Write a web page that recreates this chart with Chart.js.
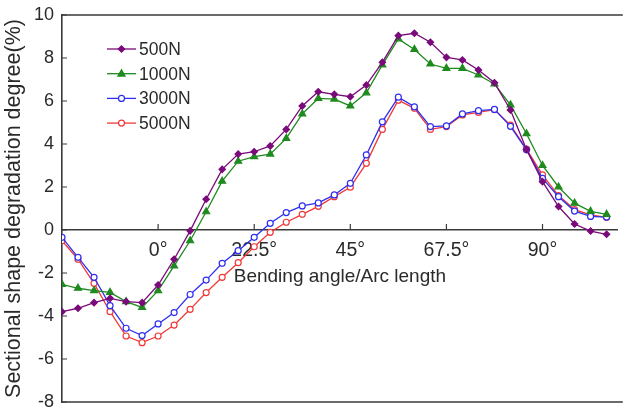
<!DOCTYPE html>
<html>
<head>
<meta charset="utf-8">
<script src="https://cdn.jsdelivr.net/npm/chart.js@4/dist/chart.umd.min.js"></script>
<style>
html,body{margin:0;padding:0;background:#fff;}
canvas{display:block;}
</style>
</head>
<body>
<canvas id="c" width="623" height="408"></canvas>
<script>
// x positions are measurement point indices (equal spacing along the bend)
const pointIndex = [0,1,2,3,4,5,6,7,8,9,10,11,12,13,14,15,16,17,18,19,20,21,22,23,24,25,26,27,28,29,30,31,32,33,34];
const xTickPositions = [6,12,18,24,30];
const xTickLabels = ['0°','22.5°','45°','67.5°','90°'];
const seriesNames = ['500N','1000N','3000N','5000N'];
const s500 = [-3.80,-3.64,-3.38,-3.18,-3.33,-3.38,-2.56,-1.36,-0.04,1.43,2.82,3.53,3.64,3.91,4.68,5.77,6.43,6.31,6.20,6.74,7.80,9.04,9.15,8.73,8.03,7.91,7.44,6.85,5.58,3.75,2.25,1.09,0.28,-0.05,-0.20];
const s1000 = [-2.53,-2.71,-2.82,-2.90,-3.33,-3.60,-2.82,-1.67,-0.50,0.85,2.27,3.20,3.41,3.53,4.26,5.40,6.12,6.09,5.77,6.38,7.68,8.89,8.40,7.72,7.52,7.52,7.21,6.79,5.82,4.48,3.00,2.00,1.25,0.87,0.73];
const s3000 = [-0.34,-1.27,-2.20,-3.52,-4.57,-4.91,-4.37,-3.84,-3.00,-2.33,-1.55,-0.96,-0.34,0.31,0.81,1.12,1.26,1.63,2.17,3.49,5.03,6.18,5.73,4.81,4.84,5.40,5.55,5.61,4.82,3.73,2.40,1.55,0.88,0.63,0.60];
const s5000 = [-0.50,-1.36,-2.48,-3.80,-4.93,-5.24,-4.93,-4.42,-3.69,-2.91,-2.20,-1.52,-0.78,-0.11,0.36,0.73,1.10,1.55,1.99,3.10,4.68,6.04,5.66,4.68,4.81,5.35,5.47,5.60,4.88,3.76,2.56,1.60,0.95,0.70,0.59];
const yTicks = [-8,-6,-4,-2,0,2,4,6,8,10];

const FONT = 'Liberation Sans, Arial, sans-serif';
const TXT = '#2a2a2a';
const AX = '#3a3a3a';

function pts(vals){ return vals.map((v,i)=>({x:pointIndex[i], y:v})); }

const styles = [
  {color:'#7a0a7a', style:'rectRot', r:3.2, fill:'#7a0a7a'},
  {color:'#1f8a1f', style:'triangle', r:4, fill:'#1f8a1f'},
  {color:'#2f2fef', style:'circle', r:3, fill:'#ffffff'},
  {color:'#f03a3a', style:'circle', r:3, fill:'#ffffff'}
];
const allVals = [s500,s1000,s3000,s5000];

const datasets = allVals.map((vals,k)=>({
  label: seriesNames[k],
  data: pts(vals),
  borderColor: styles[k].color,
  backgroundColor: styles[k].fill,
  borderWidth: 1.3,
  pointStyle: styles[k].style,
  pointRadius: styles[k].r,
  pointBorderColor: styles[k].color,
  pointBackgroundColor: styles[k].fill,
  pointBorderWidth: 1.2,
  tension: 0
}));

function drawMarker(ctx, st, x, y){
  ctx.save();
  ctx.fillStyle = st.fill; ctx.strokeStyle = st.color; ctx.lineWidth = 1.2;
  ctx.beginPath();
  const r = st.r;
  if (st.style === 'circle') { ctx.arc(x,y,r,0,Math.PI*2); }
  else if (st.style === 'triangle') {
    ctx.moveTo(x, y - r); ctx.lineTo(x + r*0.9, y + r*0.6); ctx.lineTo(x - r*0.9, y + r*0.6); ctx.closePath();
  } else { ctx.moveTo(x, y-r); ctx.lineTo(x+r, y); ctx.lineTo(x, y+r); ctx.lineTo(x-r, y); ctx.closePath(); }
  ctx.fill(); ctx.stroke();
  ctx.restore();
}

const framePlugin = {
  id:'frame',
  afterDraw(chart){
    const {ctx, chartArea:a, scales:{x,y}} = chart;
    ctx.save();
    ctx.strokeStyle = AX; ctx.lineWidth = 1.6;
    ctx.beginPath();
    ctx.moveTo(a.left, a.top); ctx.lineTo(a.right+5, a.top);
    ctx.moveTo(a.left, a.bottom); ctx.lineTo(a.right+5, a.bottom);
    ctx.stroke();
    // y tick marks (inward)
    ctx.lineWidth = 1.2;
    ctx.beginPath();
    yTicks.forEach(v=>{ const py = y.getPixelForValue(v); ctx.moveTo(a.left, py); ctx.lineTo(a.left+5, py); });
    // x tick marks (upward from zero line)
    const y0 = y.getPixelForValue(0);
    xTickPositions.forEach(v=>{ const px = x.getPixelForValue(v); ctx.moveTo(px, y0); ctx.lineTo(px, y0-6); });
    ctx.stroke();
    // legend
    const lx0 = 107, lx1 = 136, ly0 = 49, dy = 24.7;
    ctx.font = '17.5px ' + FONT; ctx.fillStyle = TXT; ctx.textBaseline = 'middle'; ctx.textAlign = 'left';
    chart.data.datasets.forEach((ds,k)=>{
      const yy = ly0 + k*dy;
      ctx.strokeStyle = styles[k].color; ctx.lineWidth = 1.3;
      ctx.beginPath(); ctx.moveTo(lx0, yy); ctx.lineTo(lx1, yy); ctx.stroke();
      drawMarker(ctx, styles[k], (lx0+lx1)/2, yy);
      ctx.fillStyle = TXT;
      ctx.fillText(ds.label, 139, yy+1);
    });
    ctx.restore();
  }
};

new Chart(document.getElementById('c'), {
  type:'line',
  data:{datasets},
  options:{
    responsive:false, animation:false,
    layout:{padding:{top:15,bottom:6,left:0,right:0}},
    plugins:{legend:{display:false}, tooltip:{enabled:false}},
    scales:{
      x:{
        type:'linear', min:0, max:34.7, position:{y:0},
        afterBuildTicks(s){ s.ticks = xTickPositions.map(v=>({value:v})); },
        ticks:{autoSkip:false, maxRotation:0, padding:9, color:TXT, font:{family:FONT,size:19.5},
          callback(v){ const i = xTickPositions.indexOf(v); return i>=0 ? xTickLabels[i] : ''; }},
        grid:{display:false, drawTicks:false},
        border:{display:true, color:AX, width:1.6},
        title:{display:true, text:'Bending angle/Arc length', color:TXT, font:{family:FONT,size:19}, padding:{top:-6,bottom:0}},
        afterFit(s){ s.paddingLeft = 0; s.paddingRight = 0; }
      },
      y:{
        type:'linear', min:-8, max:10,
        afterBuildTicks(s){ s.ticks = yTicks.map(v=>({value:v})); },
        ticks:{padding:8, color:TXT, font:{family:FONT,size:18}},
        grid:{display:false, drawTicks:false},
        border:{display:true, color:AX, width:1.6},
        title:{display:true, text:'Sectional shape degradation degree(%)', color:TXT, font:{family:FONT,size:21.5}, padding:{top:1,bottom:0}},
        afterFit(s){ s.width = 62; s.paddingTop = 0; s.paddingBottom = 0; }
      }
    }
  },
  plugins:[framePlugin]
});
</script>
</body>
</html>
